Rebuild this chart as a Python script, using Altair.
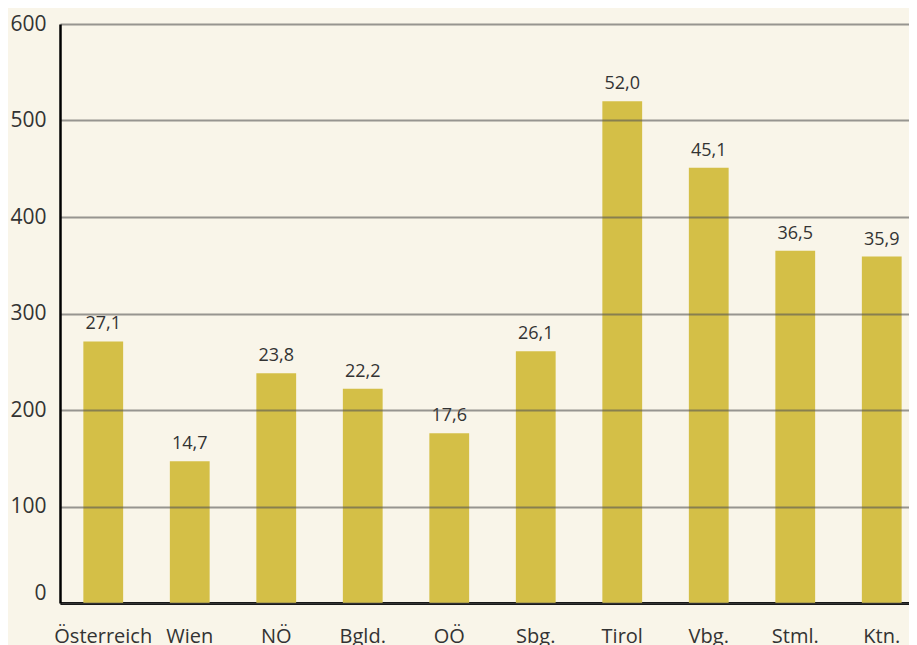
import altair as alt
import pandas as pd

regions = ["Österreich", "Wien", "NÖ", "Bgld.", "OÖ", "Sbg.", "Tirol", "Vbg.", "Stml.", "Ktn."]
values = [271, 147, 238, 222, 176, 261, 520, 451, 365, 359]
labels = ["27,1", "14,7", "23,8", "22,2", "17,6", "26,1", "52,0", "45,1", "36,5", "35,9"]

df = pd.DataFrame({"region": regions, "value": values, "label": labels})

FONT = "Open Sans"
x = alt.X("region:N", sort=regions, title=None,
          scale=alt.Scale(paddingInner=0.54, paddingOuter=0.27, range=[0, 865]),
          axis=alt.Axis(labelAngle=0, labelFontSize=20, labelColor="#333333", labelFont=FONT,
                        labelPadding=23, labelBaseline="top", ticks=False,
                        domainColor="#000000", domainWidth=3))
y = alt.Y("value:Q", title=None,
          scale=alt.Scale(domain=[0, 600], nice=False),
          axis=alt.Axis(values=[0, 100, 200, 300, 400, 500, 600], labelFontSize=21,
                        labelColor="#333333", labelFont=FONT, labelPadding=14, ticks=False,
                        labelBaseline={"condition": {"test": "datum.value == 0", "value": "bottom"},
                                       "value": "middle"},
                        domainColor="#000000", domainWidth=2.5, gridColor="#555555",
                        gridOpacity=0.6, gridWidth=2, zindex=1))

bars = alt.Chart(df).mark_bar(color="#D4BF47").encode(x=x, y=y)
text = alt.Chart(df).mark_text(dy=-12, baseline="alphabetic", fontSize=18, font=FONT,
                               color="#333333").encode(
    x=alt.X("region:N", sort=regions), y="value:Q", text="label:N")

chart = alt.layer(bars, text).properties(
    width=849, height=579, background="#F9F5E9",
    autosize=alt.AutoSizeParams(type="none"),
    padding={"left": 52, "top": 16, "right": 0, "bottom": 52},
).configure_view(stroke=None)

chart.save("out.html", embed_options={"renderer": "svg", "actions": False})
